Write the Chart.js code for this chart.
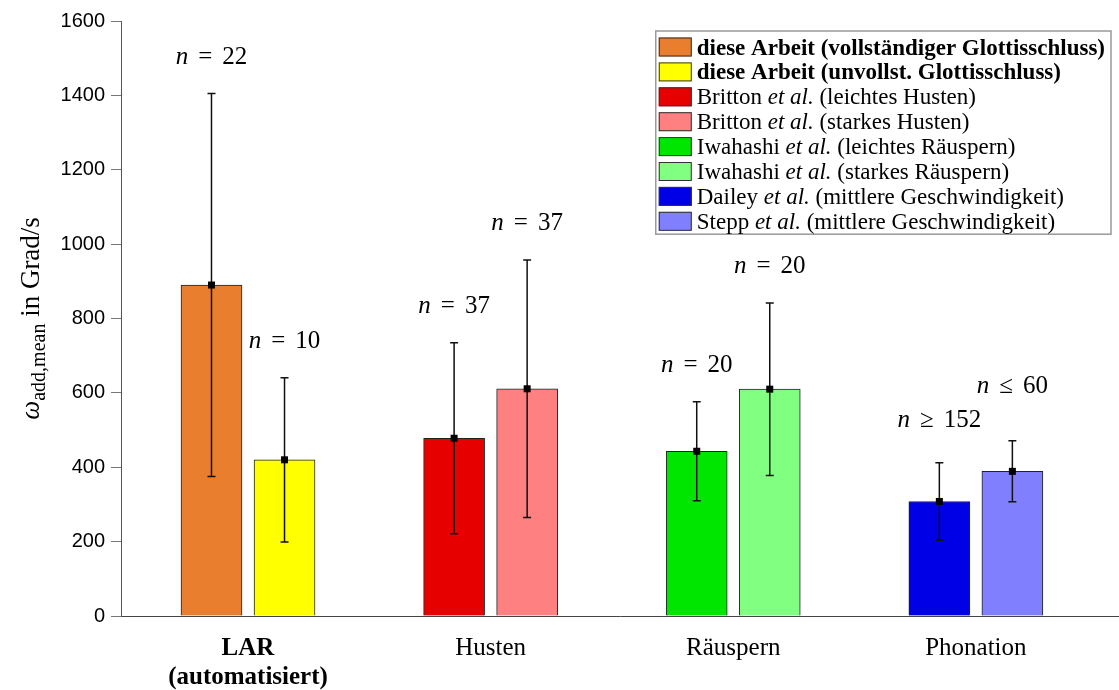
<!DOCTYPE html>
<html>
<head>
<meta charset="utf-8">
<title>Winkelgeschwindigkeit</title>
<script src="https://cdn.jsdelivr.net/npm/chart.js@4.4.0/dist/chart.umd.min.js"></script>
<style>
  html, body { margin: 0; padding: 0; background: #fff; }
  #wrap { width: 1119px; height: 690px; position: relative; }
</style>
</head>
<body>
<div id="wrap"><canvas id="omegaChart"></canvas></div>
<script>
// x axis groups
const groups = [['LAR', '(automatisiert)'], 'Husten', 'Räuspern', 'Phonation'];

// one bar per source: group index (1-based) and left/right slot within the group
const seriesGroup = [1, 1, 2, 2, 3, 3, 4, 4];
const seriesSlot = [-1, 1, -1, 1, -1, 1, -1, 1];

// mean and standard deviation in Grad/s
const meanValues = [890, 420, 478, 611, 443, 610, 308, 389];
const sdValues = [515, 221, 257, 346, 133, 232, 104, 82];

// sample sizes printed above the bars
const nRelation = ['=', '=', '=', '=', '=', '=', '≥', '≤'];
const nCount = [22, 10, 37, 37, 20, 20, 152, 60];

const yTicks = [0, 200, 400, 600, 800, 1000, 1200, 1400, 1600];

// legend entries as text runs: '' normal, 'b' bold, 'i' italic
const legendLabels = [
  [['diese Arbeit (vollständiger Glottisschluss)', 'b']],
  [['diese Arbeit (unvollst. Glottisschluss)', 'b']],
  [['Britton ', ''], ['et al.', 'i'], [' (leichtes Husten)', '']],
  [['Britton ', ''], ['et al.', 'i'], [' (starkes Husten)', '']],
  [['Iwahashi ', ''], ['et al.', 'i'], [' (leichtes Räuspern)', '']],
  [['Iwahashi ', ''], ['et al.', 'i'], [' (starkes Räuspern)', '']],
  [['Dailey ', ''], ['et al.', 'i'], [' (mittlere Geschwindigkeit)', '']],
  [['Stepp ', ''], ['et al.', 'i'], [' (mittlere Geschwindigkeit)', '']]
];

const barColors = ['#E87E2E', '#FFFF00', '#E60000', '#FF8080', '#00E600', '#80FF80', '#0000E6', '#8080FF'];

// pixel distance from the upper whisker to the n label baseline
const nLift = [30, 30, 30, 30, 30, 30, 36, 48];

const SERIF = '"Liberation Serif", "Times New Roman", serif';
const SANS = '"Liberation Sans", Arial, sans-serif';
const slotOffset = 0.1505;

function serifFont(style, size) {
  return (style === 'i' ? 'italic ' : '') + (style === 'b' ? 'bold ' : '') + size + 'px ' + SERIF;
}

const datasets = meanValues.map((m, i) => ({
  label: legendLabels[i].map(r => r[0]).join(''),
  data: [{ x: seriesGroup[i] + seriesSlot[i] * slotOffset, y: m }],
  backgroundColor: barColors[i],
  borderColor: '#222',
  borderWidth: 1,
  barThickness: 61,
  grouped: false
}));

// error bars with square mean markers and n labels
const errorBars = {
  id: 'errorBars',
  afterDatasetsDraw(chart) {
    const ctx = chart.ctx;
    const y = chart.scales.y;
    ctx.save();
    chart.data.datasets.forEach((ds, i) => {
      const bar = chart.getDatasetMeta(i).data[0];
      const x = bar.x;
      const yTop = y.getPixelForValue(meanValues[i] + sdValues[i]);
      const yBot = y.getPixelForValue(meanValues[i] - sdValues[i]);
      const yMid = y.getPixelForValue(meanValues[i]);
      ctx.strokeStyle = '#111';
      ctx.lineWidth = 1.5;
      ctx.beginPath();
      ctx.moveTo(x, yTop); ctx.lineTo(x, yBot);
      ctx.moveTo(x - 4, yTop); ctx.lineTo(x + 4, yTop);
      ctx.moveTo(x - 4, yBot); ctx.lineTo(x + 4, yBot);
      ctx.stroke();
      ctx.fillStyle = '#000';
      ctx.fillRect(x - 3.5, yMid - 3.5, 7, 7);

      // "n = 22" style label, centred over the bar
      const size = 25;
      const parts = [['n', 'i'], [nRelation[i], ''], [String(nCount[i]), '']];
      const gap = 0.4 * size;
      const widths = parts.map(p => { ctx.font = serifFont(p[1], size); return ctx.measureText(p[0]).width; });
      const total = widths.reduce((a, b) => a + b, 0) + gap * 2;
      let tx = x - total / 2;
      const base = yTop - nLift[i];
      ctx.textBaseline = 'alphabetic';
      ctx.textAlign = 'left';
      parts.forEach((p, k) => {
        ctx.font = serifFont(p[1], size);
        ctx.fillText(p[0], tx, base);
        tx += widths[k] + gap;
      });
    });
    ctx.restore();
  }
};

// boxed legend in the upper right corner
const legendBox = {
  id: 'legendBox',
  afterDraw(chart) {
    const ctx = chart.ctx;
    const area = chart.chartArea;
    const size = 23;
    const rowH = 24.9;
    const swW = 33, swH = 19;
    ctx.save();
    const rowWidths = legendLabels.map(runs => runs.reduce((w, r) => {
      ctx.font = serifFont(r[1], size);
      return w + ctx.measureText(r[0]).width;
    }, 0));
    const maxW = Math.max(...rowWidths);
    const boxW = 3 + swW + 5 + maxW + 6;
    const boxH = legendLabels.length * rowH + 4;
    const right = area.right - 8;
    const left = right - boxW;
    const top = 31;
    ctx.fillStyle = '#fff';
    ctx.fillRect(left, top, boxW, boxH);
    ctx.strokeStyle = '#999';
    ctx.lineWidth = 1.5;
    ctx.strokeRect(left, top, boxW, boxH);
    legendLabels.forEach((runs, i) => {
      const cy = top + 16 + i * rowH;
      ctx.fillStyle = barColors[i];
      ctx.fillRect(left + 3, cy - swH / 2, swW, swH);
      ctx.strokeStyle = '#333';
      ctx.lineWidth = 1;
      ctx.strokeRect(left + 3.5, cy - swH / 2 + 0.5, swW - 1, swH - 1);
      let tx = left + 3 + swW + 5;
      ctx.fillStyle = '#000';
      ctx.textBaseline = 'alphabetic';
      runs.forEach(r => {
        ctx.font = serifFont(r[1], size);
        ctx.fillText(r[0], tx, cy + 7.5);
        tx += ctx.measureText(r[0]).width;
      });
    });
    ctx.restore();
  }
};

// rotated y axis title with subscript
const yTitle = {
  id: 'yTitle',
  afterDraw(chart) {
    const ctx = chart.ctx;
    const area = chart.chartArea;
    const main = 27, sub = 20;
    const parts = [['ω', 'i', main, 0], ['add,mean', '', sub, 6], [' in Grad/s', '', main, 0]];
    ctx.save();
    const widths = parts.map(p => { ctx.font = serifFont(p[1], p[2]); return ctx.measureText(p[0]).width; });
    const total = widths.reduce((a, b) => a + b, 0);
    ctx.translate(39, (area.top + area.bottom) / 2);
    ctx.rotate(-Math.PI / 2);
    ctx.fillStyle = '#000';
    ctx.textBaseline = 'alphabetic';
    let tx = -total / 2;
    parts.forEach((p, k) => {
      ctx.font = serifFont(p[1], p[2]);
      ctx.fillText(p[0], tx, p[3]);
      tx += widths[k];
    });
    ctx.restore();
  }
};

new Chart(document.getElementById('omegaChart'), {
  type: 'bar',
  data: { datasets: datasets },
  options: {
    responsive: true,
    maintainAspectRatio: false,
    animation: false,
    layout: { padding: { top: 21, right: 0, bottom: 0, left: 0 } },
    plugins: { legend: { display: false }, tooltip: { enabled: false } },
    scales: {
      x: {
        type: 'linear',
        min: 0.4765,
        max: 4.59,
        offset: false,
        afterBuildTicks: s => { s.ticks = groups.map((g, i) => ({ value: i + 1 })); },
        ticks: {
          autoSkip: false,
          maxRotation: 0,
          padding: 10,
          color: '#000',
          callback: v => groups[Math.round(v) - 1],
          font: c => ({ family: SERIF, size: 25, lineHeight: 1.16, weight: c.index === 0 ? 'bold' : 'normal' })
        },
        grid: { display: false },
        border: { color: '#444', width: 1 },
        afterFit: s => { s.height = 74; }
      },
      y: {
        min: 0,
        max: 1600,
        afterBuildTicks: s => { s.ticks = yTicks.map(v => ({ value: v })); },
        ticks: { color: '#000', padding: 6, font: { family: SANS, size: 20 }, callback: v => String(v) },
        grid: { drawOnChartArea: false, drawTicks: true, tickLength: 10, color: '#777', lineWidth: 1 },
        border: { color: '#555', width: 1 },
        afterFit: s => { s.width = 121; }
      }
    }
  },
  plugins: [errorBars, legendBox, yTitle]
});
</script>
</body>
</html>
